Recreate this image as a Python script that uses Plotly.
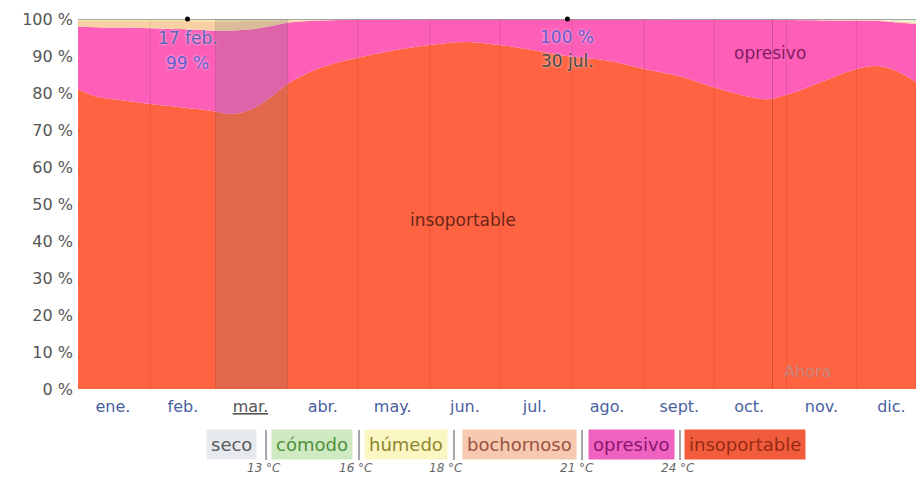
import plotly.graph_objects as go

# ---- data (day of year, percentage of time in each humidity comfort level) ----
days = [0, 8, 20, 31, 46, 59, 65, 74, 82, 90, 105, 120, 135, 151, 166, 181, 196, 212,
        227, 243, 258, 273, 288, 296, 304, 319, 334, 342, 349, 357, 365]
insoportable = [81, 79, 78, 77, 76, 75, 74.3, 75.5, 78.5, 82.5, 87, 89.5, 91.5, 93, 93.8, 93,
                91.5, 89.8, 88.8, 86.5, 84.5, 81.5, 79, 78.3, 79.5, 83, 86.5, 87.3, 86.5, 84, 80.5]
opresivo = [17, 18.8, 19.7, 20.5, 21.2, 21.8, 22.5, 21.7, 19.5, 16.5, 12.6, 10.3, 8.3, 6.9, 6.1,
            6.9, 8.4, 10.1, 11.1, 13.4, 15.3, 18.3, 20.8, 21.5, 20.2, 16.6, 13.0, 12.2, 12.7, 14.8, 17.8]
bochornoso = [1.45, 1.65, 1.75, 1.95, 2.25, 2.55, 2.55, 2.25, 1.55, 0.65, 0.15, 0.05, 0.05, 0, 0,
              0, 0, 0, 0, 0, 0.05, 0.05, 0.05, 0.05, 0.1, 0.15, 0.2, 0.2, 0.25, 0.35, 0.4]
humedo = [0.4, 0.4, 0.4, 0.4, 0.4, 0.5, 0.5, 0.4, 0.3, 0.2, 0.1, 0.05, 0.05, 0.03, 0.03, 0.03,
          0.03, 0.03, 0.03, 0.03, 0.05, 0.05, 0.05, 0.05, 0.05, 0.1, 0.1, 0.1, 0.1, 0.1, 0.1]
comodo = [0.1, 0.1, 0.1, 0.1, 0.1, 0.1, 0.1, 0.1, 0.1, 0.1, 0.1, 0.05, 0.05, 0.02, 0.02, 0.02,
          0.02, 0.02, 0.02, 0.02, 0.05, 0.05, 0.05, 0.05, 0.1, 0.1, 0.15, 0.15, 0.4, 0.7, 1.15]
seco = [0.05] * len(days)

month_mid = [15, 45, 74, 105, 135, 166, 196, 227, 258, 288, 319, 349]
month_labels = ["ene.", "feb.", "<span style='color:#555'><u>mar.</u></span>", "abr.", "may.", "jun.",
                "jul.", "ago.", "sept.", "oct.", "nov.", "dic."]
month_bounds = [31, 59, 90, 120, 151, 181, 212, 243, 273, 304, 334]

y_ticks = [0, 10, 20, 30, 40, 50, 60, 70, 80, 90, 100]
y_labels = ["0 %", "10 %", "20 %", "30 %", "40 %", "50 %", "60 %", "70 %", "80 %", "90 %", "100 %"]

extreme_days = [47, 210]
extreme_vals = [100, 100]

legend_names = ["seco", "cómodo", "húmedo", "bochornoso", "opresivo", "insoportable"]
legend_temps = ["13 °C", "16 °C", "18 °C", "21 °C", "24 °C"]

FONT = "DejaVu Sans"
fill_colors = {
    "insoportable": "#ff6342",
    "opresivo": "#fc5eb8",
    "bochornoso": "#f8d0a4",
    "húmedo": "#f8f0a8",
    "cómodo": "#e2f1d8",
    "seco": "#d8dde3",
}

fig = go.Figure()
series = [("insoportable", insoportable), ("opresivo", opresivo), ("bochornoso", bochornoso),
          ("húmedo", humedo), ("cómodo", comodo), ("seco", seco)]
for name, vals in series:
    top = name == "seco"
    fig.add_trace(go.Scatter(
        x=days, y=vals, name=name, stackgroup="one", mode="lines",
        line=dict(width=1.5 if top else 0, color="#8c8c8c" if top else fill_colors[name], shape="spline"),
        fillcolor=fill_colors[name], hoverinfo="skip", showlegend=False,
    ))

fig.add_trace(go.Scatter(x=extreme_days, y=extreme_vals, mode="markers",
                         marker=dict(color="black", size=5), cliponaxis=False,
                         hoverinfo="skip", showlegend=False))

shapes = []
for b in month_bounds:
    shapes.append(dict(type="line", xref="x", yref="y", x0=b, x1=b, y0=0, y1=100,
                       line=dict(color="rgba(0,0,0,0.09)", width=1), layer="above"))
shapes.append(dict(type="rect", xref="x", yref="y", x0=59, x1=90, y0=0, y1=100,
                   fillcolor="rgba(120,120,120,0.22)", line=dict(width=0), layer="above"))
shapes.append(dict(type="line", xref="x", yref="y", x0=298, x1=298, y0=0, y1=100,
                   line=dict(color="rgba(0,0,0,0.18)", width=1), layer="above"))

# page has an 8px body margin: figure sits at (8, 8) in the screenshot
OFF = 8
W, H = 924 - 2 * OFF, 483 - 2 * OFF
PX_PER_DAY = 846 / 363
L, T, PH = 78, 19, 370                  # screen coordinates of the plot area
PW = W + OFF - L                         # plot runs to the right edge of the figure
X_END = PW / PX_PER_DAY
def px(x):
    return (x - L) / PW
def py(y):
    return (T + PH - y) / PH

# legend separators
for sx in [266, 359, 454, 582, 680]:
    shapes.append(dict(type="line", xref="paper", yref="paper", x0=px(sx), x1=px(sx),
                       y0=py(430), y1=py(460), line=dict(color="#8a8a8a", width=1.5)))

annotations = []
halo = "0px 0px 3px rgba(255,255,255,0.8)"
annotations += [
    dict(x=165, y=45.7, xref="x", yref="y", text="insoportable", showarrow=False,
         font=dict(family=FONT, size=17, color="rgba(60,20,10,0.8)")),
    dict(x=297, y=90.8, xref="x", yref="y", text="opresivo", showarrow=False,
         font=dict(family=FONT, size=17, color="rgba(70,0,55,0.7)")),
    dict(x=313, y=4.6, xref="x", yref="y", text="Ahora", showarrow=False,
         font=dict(family=FONT, size=16, color="rgba(170,150,150,0.7)")),
    dict(x=47, y=94.9, xref="x", yref="y", text="17 feb.", showarrow=False,
         font=dict(family=FONT, size=17, color="#5c64b8", shadow=halo)),
    dict(x=47, y=88.1, xref="x", yref="y", text="99 %", showarrow=False,
         font=dict(family=FONT, size=17, color="#6a5ad0", shadow=halo)),
    dict(x=210, y=95.1, xref="x", yref="y", text="100 %", showarrow=False,
         font=dict(family=FONT, size=17, color="#6a5ad0", shadow=halo)),
    dict(x=210, y=88.6, xref="x", yref="y", text="30 jul.", showarrow=False,
         font=dict(family=FONT, size=17, color="#4a4a4a", shadow=halo)),
]

legend_style = [
    (231, "#e6e9ee", "#5a5a5a"),
    (312, "#cfeac2", "#4f8f3a"),
    (406, "#fbf7c2", "#8f8530"),
    (519, "#f7c9b0", "#9a5240"),
    (631, "#f062c0", "#8a1670"),
    (745, "#f15d3c", "#992a14"),
]
for name, (cx, bg, fg) in zip(legend_names, legend_style):
    annotations.append(dict(x=px(cx), y=py(444), xref="paper", yref="paper", text=name,
                            xanchor="center", yanchor="middle",
                            showarrow=False, bgcolor=bg, borderpad=4,
                            font=dict(family=FONT, size=18, color=fg)))
for t, cx in zip(legend_temps, [264, 356, 446, 577, 678]):
    annotations.append(dict(x=px(cx), y=py(468), xref="paper", yref="paper",
                            xanchor="center", yanchor="middle",
                            text="<i>" + t + "</i>", showarrow=False,
                            font=dict(family=FONT, size=12, color="#666")))

fig.update_layout(
    width=W, height=H,
    margin=dict(l=L - OFF, r=0, t=T - OFF, b=H - (T - OFF) - PH, autoexpand=False),
    paper_bgcolor="white", plot_bgcolor="white",
    shapes=shapes, annotations=annotations,
    xaxis=dict(range=[0, X_END], tickvals=month_mid, ticktext=month_labels, showgrid=False,
               zeroline=False, showline=False, ticks="", automargin=False, ticklabelstandoff=6,
               tickfont=dict(family=FONT, size=16, color="#4a5f9f")),
    yaxis=dict(range=[0, 100], tickvals=y_ticks, ticktext=y_labels, ticklabelstandoff=4,
               showgrid=False, zeroline=False, showline=False, ticks="", automargin=False,
               tickfont=dict(family=FONT, size=16, color="#555")),
)

fig.write_html("out.html")
